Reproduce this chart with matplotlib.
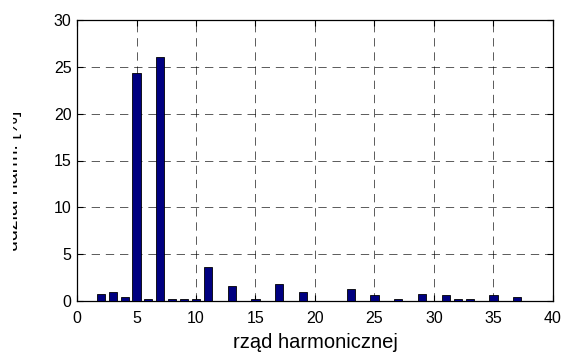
import numpy as np
import matplotlib.pyplot as plt
from matplotlib.transforms import Bbox

plt.rcParams['font.family'] = ['Liberation Sans', 'DejaVu Sans']

# --- Dane ---
rzad = np.arange(2, 38)   # rzędy harmonicznych 2..37
udzial = [0.8, 1.0, 0.45, 24.3, 0.25, 26.1, 0.2, 0.2, 0.2, 3.6,
          0.0, 1.6, 0.0, 0.2, 0.0, 1.8, 0.0, 1.0, 0.0, 0.05,
          0.0, 1.23, 0.0, 0.6, 0.0, 0.2, 0.0, 0.8, 0.0, 0.6,
          0.2, 0.2, 0.0, 0.6, 0.0, 0.4]   # udział [%]
xticks = np.arange(0, 41, 5)
yticks = np.arange(0, 31, 5)

fig = plt.figure(figsize=(5.67, 3.56), dpi=100)
ax = fig.add_axes([77/567, 55/356, 476/567, 281/356])

ax.bar(rzad, udzial, width=0.68, color='#000080', edgecolor='black', linewidth=0.6, zorder=3)

ax.set_xlim(0, 40)
ax.set_ylim(0, 30)
ax.set_xticks(xticks)
ax.set_yticks(yticks)
ax.tick_params(direction='in', top=True, right=True, labelsize=11.5, length=4, width=0.8)
ax.tick_params(axis='x', pad=7.5)
ax.tick_params(axis='y', pad=4)
ax.grid(True, color='black', linestyle=(0, (10, 7)), linewidth=0.6, alpha=0.75, zorder=0)
for s in ax.spines.values():
    s.set_linewidth(0.9)

ax.set_xlabel('rząd harmonicznej', fontsize=14.5, labelpad=5)

# Etykieta osi Y - w oryginale przycięta z lewej strony
yl = fig.text(22/567, 175/356, 'udział harm. [%]', rotation=90, fontsize=14,
              ha='right', va='center')
yl.set_clip_box(Bbox.from_extents(13, 0, 567, 356))
yl.set_clip_on(True)

fig.savefig('out.png', dpi=100)
